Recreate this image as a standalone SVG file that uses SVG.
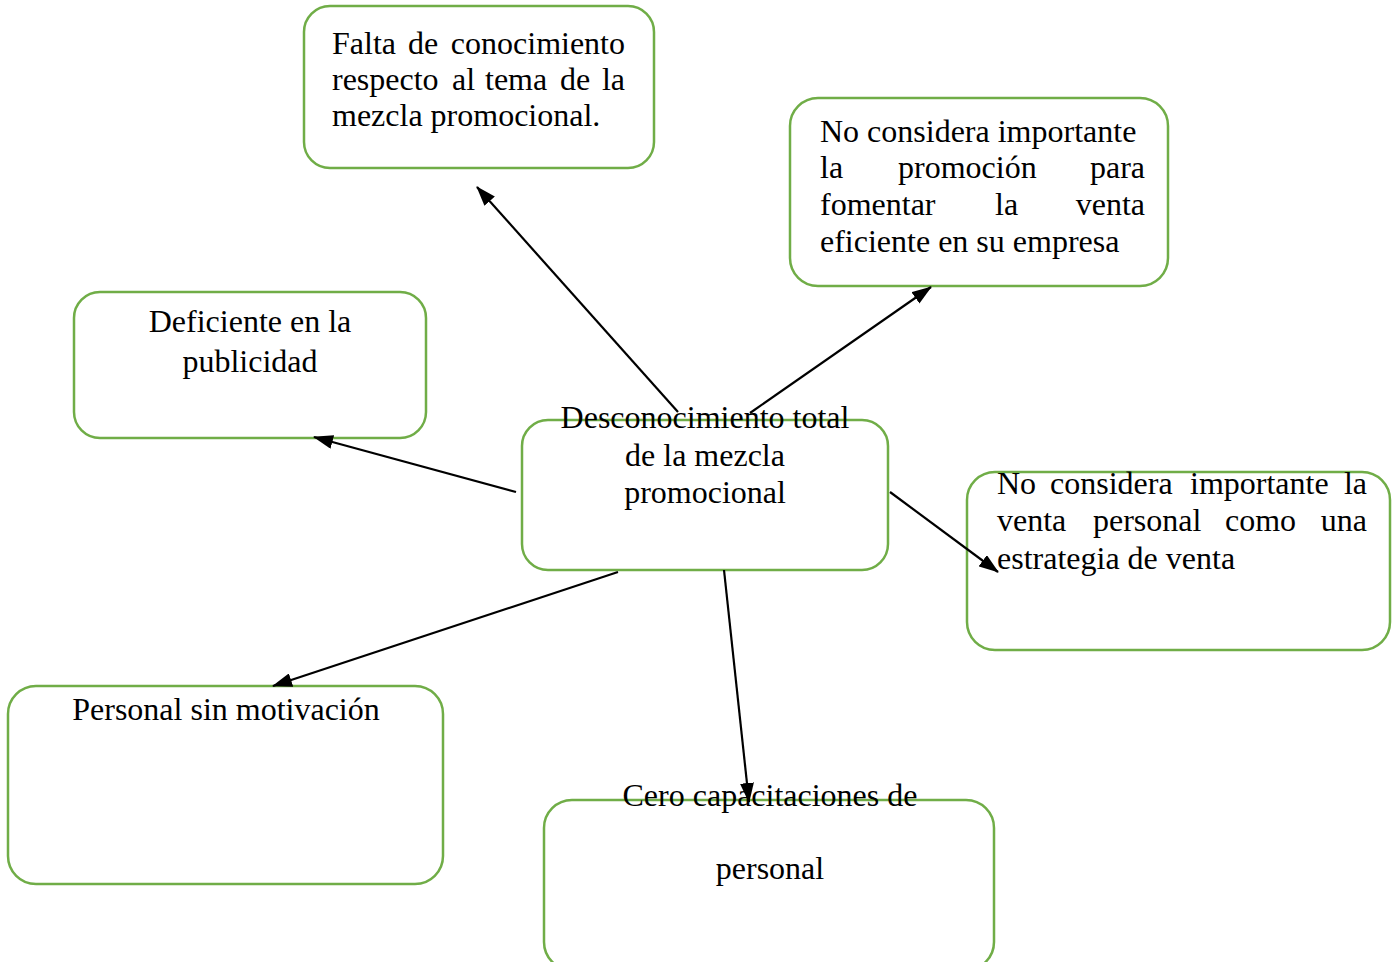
<svg xmlns="http://www.w3.org/2000/svg" width="1399" height="962" viewBox="0 0 1399 962">
<style>
.box{fill:#fff;stroke:#70AD47;stroke-width:2.5}
.t{font-family:"Liberation Serif","Times New Roman",serif;font-size:32px;fill:#000}
.c{text-anchor:middle}
.e{text-anchor:end}
.ln{stroke:#000;stroke-width:2.2;fill:none;marker-end:url(#ah)}
</style>
<defs>
<marker id="ah" viewBox="0 0 20 14" refX="19" refY="7" markerWidth="20" markerHeight="14" markerUnits="userSpaceOnUse" orient="auto">
<path d="M0,0 L20,7 L0,14 z" fill="#000"/>
</marker>
</defs>
<rect width="1399" height="962" fill="#fff"/>
<g id="n-falta">
<rect class="box" x="304" y="6" width="350" height="162" rx="26"/>
<text class="t" y="54"><tspan x="332">Falta</tspan><tspan x="408">de</tspan><tspan x="625" class="e">conocimiento</tspan></text>
<text class="t" y="90"><tspan x="332">respecto</tspan><tspan x="452">al</tspan><tspan x="485">tema</tspan><tspan x="560">de</tspan><tspan x="625" class="e">la</tspan></text>
<text class="t" x="332" y="126">mezcla promocional.</text>
</g>
<g id="n-promocion">
<rect class="box" x="790" y="98" width="378" height="188" rx="28"/>
<text class="t" x="820" y="142">No considera importante</text>
<text class="t" y="178"><tspan x="820">la</tspan><tspan x="898">promoción</tspan><tspan x="1145" class="e">para</tspan></text>
<text class="t" y="215"><tspan x="820">fomentar</tspan><tspan x="995">la</tspan><tspan x="1145" class="e">venta</tspan></text>
<text class="t" x="820" y="252">eficiente en su empresa</text>
</g>
<g id="n-publicidad">
<rect class="box" x="74" y="292" width="352" height="146" rx="26"/>
<text class="t c" x="250" y="332">Deficiente en la</text>
<text class="t c" x="250" y="372">publicidad</text>
</g>
<g id="n-centro">
<rect class="box" x="522" y="420" width="366" height="150" rx="26"/>
<text class="t c" x="705" y="428">Desconocimiento total</text>
<text class="t c" x="705" y="466">de la mezcla</text>
<text class="t c" x="705" y="503">promocional</text>
</g>
<g id="n-venta">
<rect class="box" x="967" y="472" width="423" height="178" rx="28"/>
<text class="t" y="494"><tspan x="997">No</tspan><tspan x="1050">considera</tspan><tspan x="1190">importante</tspan><tspan x="1367" class="e">la</tspan></text>
<text class="t" y="531"><tspan x="997">venta</tspan><tspan x="1093">personal</tspan><tspan x="1225">como</tspan><tspan x="1367" class="e">una</tspan></text>
<text class="t" x="997" y="569">estrategia de venta</text>
</g>
<g id="n-motivacion">
<rect class="box" x="8" y="686" width="435" height="198" rx="28"/>
<text class="t c" x="226" y="720">Personal sin motivación</text>
</g>
<g id="n-capacitaciones">
<rect class="box" x="544" y="800" width="450" height="170" rx="28"/>
<text class="t c" x="770" y="806">Cero capacitaciones de</text>
<text class="t c" x="770" y="879">personal</text>
</g>
<g id="connectors">
<line class="ln" x1="678" y1="412" x2="477" y2="187"/>
<line class="ln" x1="750" y1="413" x2="931" y2="287"/>
<line class="ln" x1="516" y1="492" x2="314" y2="437"/>
<line class="ln" x1="890" y1="492" x2="998" y2="572"/>
<line class="ln" x1="618" y1="572" x2="273" y2="686"/>
<line class="ln" x1="724" y1="570" x2="749" y2="802"/>
</g>
</svg>
